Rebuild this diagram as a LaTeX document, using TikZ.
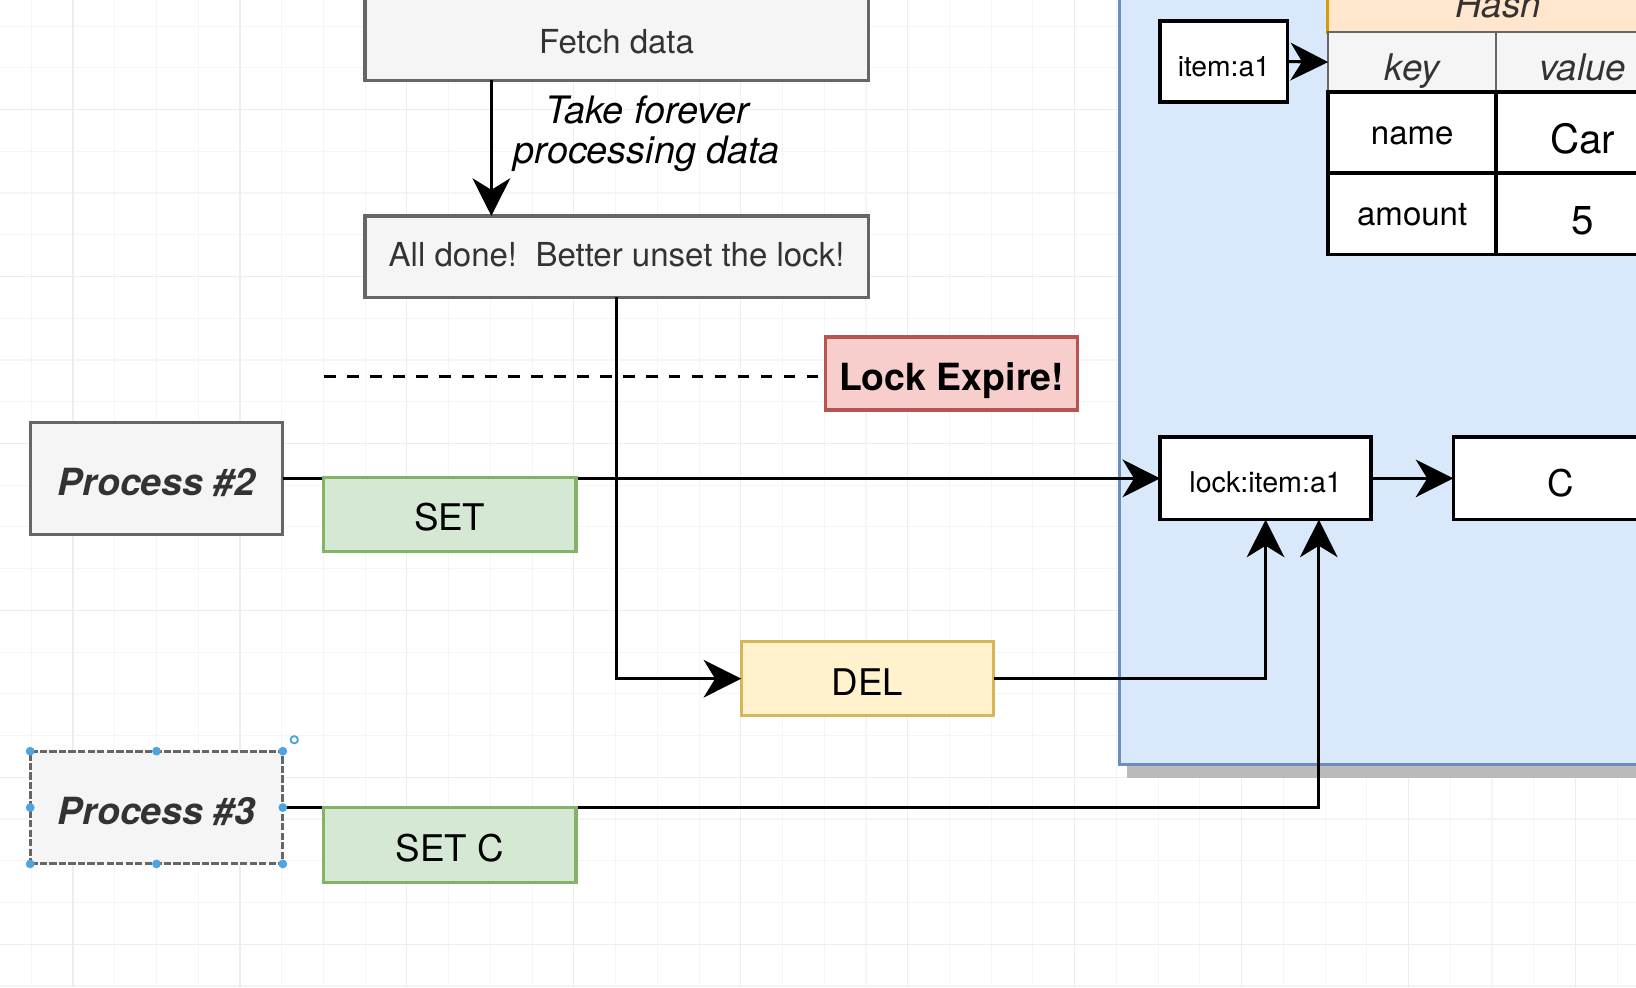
\documentclass[tikz,border=0pt]{standalone}
\usepackage{fontspec}
\setmainfont{TeX Gyre Heros}
\usetikzlibrary{arrows.meta,positioning,calc}
\definecolor{boxgray}{HTML}{F5F5F5}
\definecolor{edgegray}{HTML}{666666}
\definecolor{txtgray}{HTML}{333333}
\definecolor{setfill}{HTML}{D5E8D4}
\definecolor{setedge}{HTML}{82B366}
\definecolor{delfill}{HTML}{FFF2CC}
\definecolor{deledge}{HTML}{D6B656}
\definecolor{expfill}{HTML}{F8CECC}
\definecolor{expedge}{HTML}{B85450}
\definecolor{redisfill}{HTML}{DAE8FC}
\definecolor{redisedge}{HTML}{6C8EBF}
\definecolor{hashfill}{HTML}{FFE6CC}
\definecolor{hashedge}{HTML}{D79B00}
\definecolor{handle}{HTML}{4FA3E0}
\tikzset{
	fsz/.style={font=\fontsize{#1}{#1}\selectfont},
	lowtxt/.style={text height=#1,text depth=0pt},
	box/.style={draw=edgegray,fill=boxgray,line width=0.85pt,text=txtgray,inner sep=0pt,outer sep=0pt,minimum width=4.82cm,minimum height=0.78cm,fsz=9,lowtxt=7.4pt},
	proc/.style={box,minimum width=2.42cm,minimum height=1.07cm,font=\fontsize{10.2}{10.2}\selectfont\bfseries\itshape,lowtxt=9.1pt},
	cmd/.style={draw=#1edge,fill=#1fill,line width=0.85pt,inner sep=0pt,outer sep=0pt,minimum width=2.42cm,minimum height=0.71cm,fsz=10,lowtxt=9pt},
	key/.style={draw=black,fill=white,line width=1pt,inner sep=0pt,outer sep=0pt,minimum height=0.79cm,fsz=7.8,lowtxt=7.5pt},
	cell/.style={key,minimum width=1.61cm,minimum height=0.78cm,fsz=9,lowtxt=6.6pt},
	bigcell/.style={cell,minimum width=1.66cm,fsz=11,lowtxt=11.4pt},
	head/.style={draw=edgegray,fill=boxgray,line width=0.6pt,minimum height=0.57cm,inner sep=0pt,outer sep=0pt,fsz=10,font=\itshape,text=txtgray,lowtxt=10pt},
	arr/.style={-{Stealth[length=0.36cm,width=0.36cm,inset=0.11cm]},line width=0.85pt},
	gridminor/.style={draw=black!4,line width=0.3pt},
	gridmajor/.style={draw=black!7,line width=0.3pt}
}
\begin{document}
\begin{tikzpicture}[x=0.01cm,y=-0.01cm]
	\clip (0,0) rectangle (1568,946);
	\fill[white] (0,0) rectangle (1568,946);
	%GRID
	\foreach \x in {30,70,...,1550} \draw[gridminor] (\x,0) -- (\x,946);
	\foreach \y in {25,65,...,945} \draw[gridminor] (0,\y) -- (1568,\y);
	\foreach \x in {70,230,...,1550} \draw[gridmajor] (\x,0) -- (\x,946);
	\foreach \y in {105,265,...,905} \draw[gridmajor] (0,\y) -- (1568,\y);
	%REDIS
	\fill[black!27] (1080,0) rectangle (1610,746);
	\draw[draw=redisedge,fill=redisfill,line width=0.85pt] (1073,-10) rectangle (1600,733);
	%HASH
	\node[draw=hashedge,fill=hashfill,line width=0.85pt,minimum width=3.27cm,minimum height=0.51cm,inner sep=0pt] (hash) at (1436,5.5) {};
	\node[fsz=10,font=\itshape,text=txtgray] at (1436,4) {Hash};
	\node[head,minimum width=1.61cm] (keyc) at (1353.5,59.5) {key};
	\node[head,minimum width=1.66cm] (valc) at (1517,59.5) {value};
	\node[cell] (namec) at (1353.5,127) {name};
	\node[bigcell] (carc) at (1517,127) {Car};
	\node[cell] (amountc) at (1353.5,205) {amount};
	\node[bigcell] (fivec) at (1517,205) {5};
	\node[key,minimum width=1.22cm,minimum height=0.78cm,fsz=7.7,lowtxt=8.2pt] (item) at (1173,59) {item:a1};
	\node[key,minimum width=2.02cm] (lock) at (1213,458.5) {lock:item:a1};
	\node[key,minimum width=2.05cm,fsz=10,lowtxt=9.8pt] (cval) at (1495.5,458.5) {C};
	%CLIENT
	\node[box] (fetch) at (591,38) {Fetch data};
	\node[box,lowtxt=5.5pt] (done) at (591,246) {All done!\ \ Better unset the lock!};
	\node[align=center,font=\fontsize{10.3}{11}\selectfont\itshape] (take) at (620,128) {Take forever\\processing data};
	\node[cmd=exp,font=\fontsize{10.2}{10.2}\selectfont\bfseries,minimum height=0.70cm] (expire) at (912,358) {Lock Expire!};
	\node[proc] (p2) at (150,458.5) {Process \#2};
	\node[proc,minimum height=1.08cm,dash pattern=on 2pt off 0.6pt] (p3) at (150,774) {Process \#3};
	\node[cmd=del] (del) at (831.5,650.5) {DEL};
	%CONNECTORS
	\coordinate (dashL) at (311,361);
	\draw[line width=0.85pt,dash pattern=on 0.11cm off 0.11cm] (dashL) -- (dashL -| expire.west);
	\draw[arr] ([xshift=-1.2cm]fetch.south) -- ([xshift=-1.2cm]done.north);
	\draw[arr] (done.south) |- (del.west);
	\draw[arr] (p2.east) -- (lock.west);
	\draw[arr] (p3.east) -| ([xshift=0.51cm]lock.south);
	\draw[arr] (del.east) -| (lock.south);
	\draw[arr] (lock.east) -- (cval.west);
	\draw[arr] (item.east) -- (keyc.west);
	%COMMANDS
	\node[cmd=set] (set) at (431,493) {SET};
	\node[cmd=set,minimum height=0.72cm] (setc) at (431,810) {SET C};
	%SELECTION
	\foreach \a in {north west,north,north east,east,south east,south,south west,west}
		\fill[handle] (p3.\a) circle (1.2pt);
	\draw[handle,line width=0.5pt] (282,709) circle (1pt);
\end{tikzpicture}
\end{document}
